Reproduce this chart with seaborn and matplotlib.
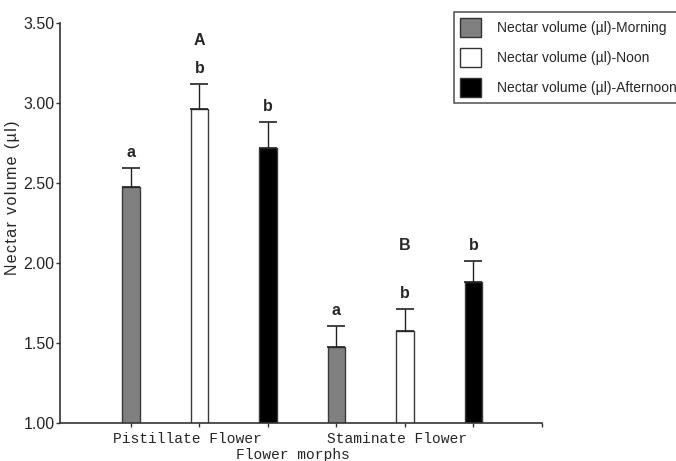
import pandas as pd
import numpy as np
import matplotlib
matplotlib.use("Agg")
import matplotlib.pyplot as plt
import seaborn as sns

# values
morphs = ["Pistillate Flower", "Staminate Flower"]
times = ["Morning", "Noon", "Afternoon"]
volume_mean = [2.475, 2.96, 2.72, 1.475, 1.575, 1.88]
volume_err = [0.12, 0.16, 0.16, 0.13, 0.14, 0.13]
sig_letters = ["a", "b", "b", "a", "b", "b"]
group_letters = ["A", "B"]
group_letter_y = [3.39, 2.11]

legend_labels = ["Nectar volume (\u00b5l)-" + t for t in times]
colors = ["#808080", "#ffffff", "#000000"]

slots = [m + " " + t for m in morphs for t in times]
df = pd.DataFrame({
    "slot": slots,
    "time": [legend_labels[i % 3] for i in range(6)],
    "volume": volume_mean,
})

sns.set_style("white")
plt.rcParams["font.family"] = ["Liberation Sans", "DejaVu Sans"]

fig = plt.figure(figsize=(6.76, 4.61), dpi=100)
ax = fig.add_axes([60/676, 1-423/461, (542-60)/676, (423-23)/461])

sns.barplot(data=df, x="slot", y="volume", hue="time", order=slots,
            hue_order=legend_labels, palette=colors, dodge=False, width=0.26,
            edgecolor="#3a3a3a", linewidth=1.0, ax=ax, legend=True)

xpos = np.arange(len(slots))
ax.errorbar(xpos, volume_mean, yerr=[np.zeros(6), volume_err], fmt="none",
            ecolor="#222222", elinewidth=1.0, capsize=6.8, capthick=1.2)

for i in range(6):
    ax.text(xpos[i], volume_mean[i] + volume_err[i] + 0.05, sig_letters[i],
            ha="center", va="bottom", fontsize=11.5, fontweight="bold")
for g in range(2):
    ax.text(xpos[g*3+1], group_letter_y[g], group_letters[g], ha="center",
            va="center", fontsize=11.5, fontweight="bold")

yt = [1.0, 1.5, 2.0, 2.5, 3.0, 3.5]
ax.set_ylim(1.0, 3.5)
ax.set_xlim(-1.035, 6.0)
ax.set_yticks(yt)
ax.set_yticklabels(["%.2f" % v for v in yt], fontsize=11.5)
ax.set_xticks(list(xpos) + [6.0])
ax.set_xticklabels([""] * 7)
ax.tick_params(axis="both", direction="out", length=3, width=1, color="#333333",
               left=True, bottom=True, pad=1)
ax.set_xlabel("")
ax.set_ylabel("")

for s in ["top", "right"]:
    ax.spines[s].set_visible(False)
for s in ["left", "bottom"]:
    ax.spines[s].set_color("#333333")
    ax.spines[s].set_linewidth(1.2)

# group labels and axis titles
for lab, xc in zip(morphs, [0.82, 3.88]):
    ax.text(xc, -0.022, lab, transform=ax.get_xaxis_transform(), ha="center",
            va="top", fontsize=10.5, family=["Liberation Mono", "DejaVu Sans Mono"])
fig.text(293/676, 1-455/461, "Flower morphs", ha="center", va="center",
         fontsize=10.5, family=["Liberation Mono", "DejaVu Sans Mono"])
ylab = "\u200a".join("Nectar volume (\u00b5l)")
fig.text(13/676, 1-198/461, ylab, rotation=90, ha="center", va="center",
         fontsize=11.5, family=["Liberation Sans", "DejaVu Sans"])

ax.get_legend().remove()
handles, labels = ax.get_legend_handles_labels()
leg = fig.legend(handles, labels, loc="upper left",
                 bbox_to_anchor=(454/676, 1-12/461), bbox_transform=fig.transFigure,
                 fontsize=10, handlelength=1.5, handleheight=1.7, labelspacing=0.8,
                 handletextpad=1.15, borderpad=0.45, borderaxespad=0,
                 frameon=True, fancybox=False, edgecolor="#333333")
leg.get_frame().set_linewidth(1.2)
for h in leg.legend_handles:
    h.set_edgecolor("#333333")

fig.savefig("out.png", dpi=100)
